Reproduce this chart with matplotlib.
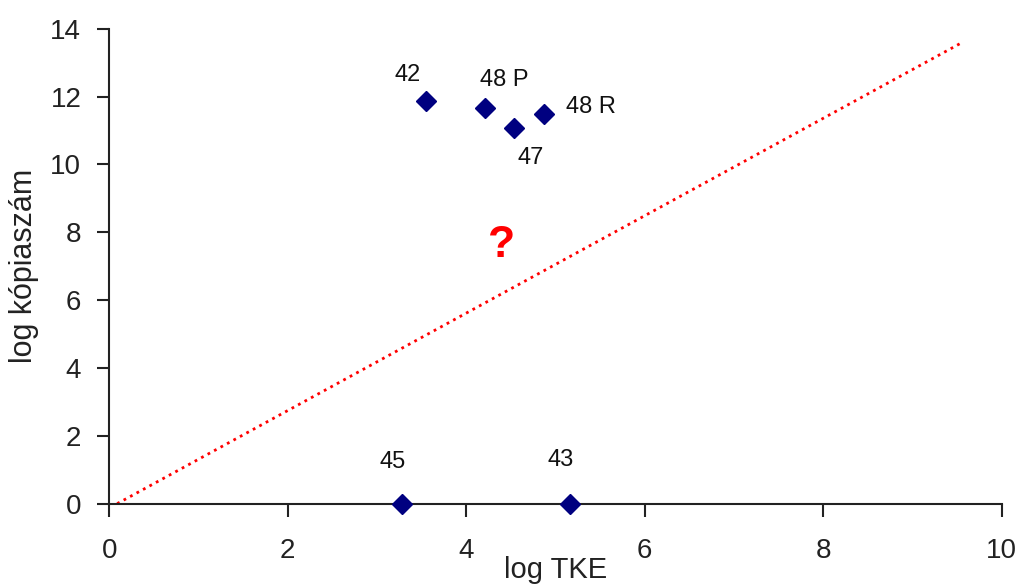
import matplotlib
matplotlib.use('Agg')
import matplotlib.pyplot as plt
from matplotlib import font_manager

# point data
labels = ['42', '48 P', '47', '48 R', '45', '43']
log_tke = [3.55, 4.21, 4.54, 4.87, 3.28, 5.16]
log_copies = [11.88, 11.67, 11.08, 11.49, 0.0, 0.0]
label_offsets = [(-18, 26), (19, 28), (16, -30), (47, 7), (-9, 42), (-9, 44)]

# dotted trend line endpoints
trend_x = [0.09, 9.56]
trend_y = [0.0, 13.6]

installed = {f.name for f in font_manager.fontManager.ttflist}
if 'Liberation Sans Narrow' in installed:
    family, tick_fs, lab_fs, pt_fs = 'Liberation Sans Narrow', 22, 24, 20
else:
    family, tick_fs, lab_fs, pt_fs = 'Liberation Sans', 20, 21, 17
plt.rcParams['font.family'] = family

fig = plt.figure(figsize=(10.2, 5.87), dpi=100)
ax = fig.add_axes([0.107, 0.142, 0.875, 0.809])

ax.plot(trend_x, trend_y, color='red', linestyle=':', linewidth=2.0, zorder=2)
ax.plot(log_tke, log_copies, linestyle='none', marker='D', markersize=10.5,
        color='#000080', zorder=3, clip_on=False)

for lab, x, y, off in zip(labels, log_tke, log_copies, label_offsets):
    ax.annotate(lab, (x, y), xytext=off, textcoords='offset pixels',
                ha='center', va='center', fontsize=pt_fs, color='#111111')

ax.text(4.4, 7.6, '?', color='red', fontsize=32, fontweight='bold',
        family='Liberation Sans', ha='center', va='center')

ax.set_xlim(0, 10)
ax.set_ylim(0, 14)
ax.set_xticks(range(0, 11, 2))
ax.set_yticks(range(0, 15, 2))
ax.spines['top'].set_visible(False)
ax.spines['right'].set_visible(False)
for s in ('left', 'bottom'):
    ax.spines[s].set_linewidth(1.5)
    ax.spines[s].set_color('#222222')
ax.tick_params(direction='out', length=9, width=1.5, color='#222222',
               labelsize=tick_fs, labelcolor='#222222')
ax.tick_params(axis='x', pad=16)
ax.tick_params(axis='y', pad=11)

ax.set_xlabel('log TKE', fontsize=lab_fs, color='#222222', labelpad=-6)
ax.set_ylabel('log kópiaszám', fontsize=lab_fs + 1, color='#222222', labelpad=8)

fig.savefig('out.png', dpi=100)
